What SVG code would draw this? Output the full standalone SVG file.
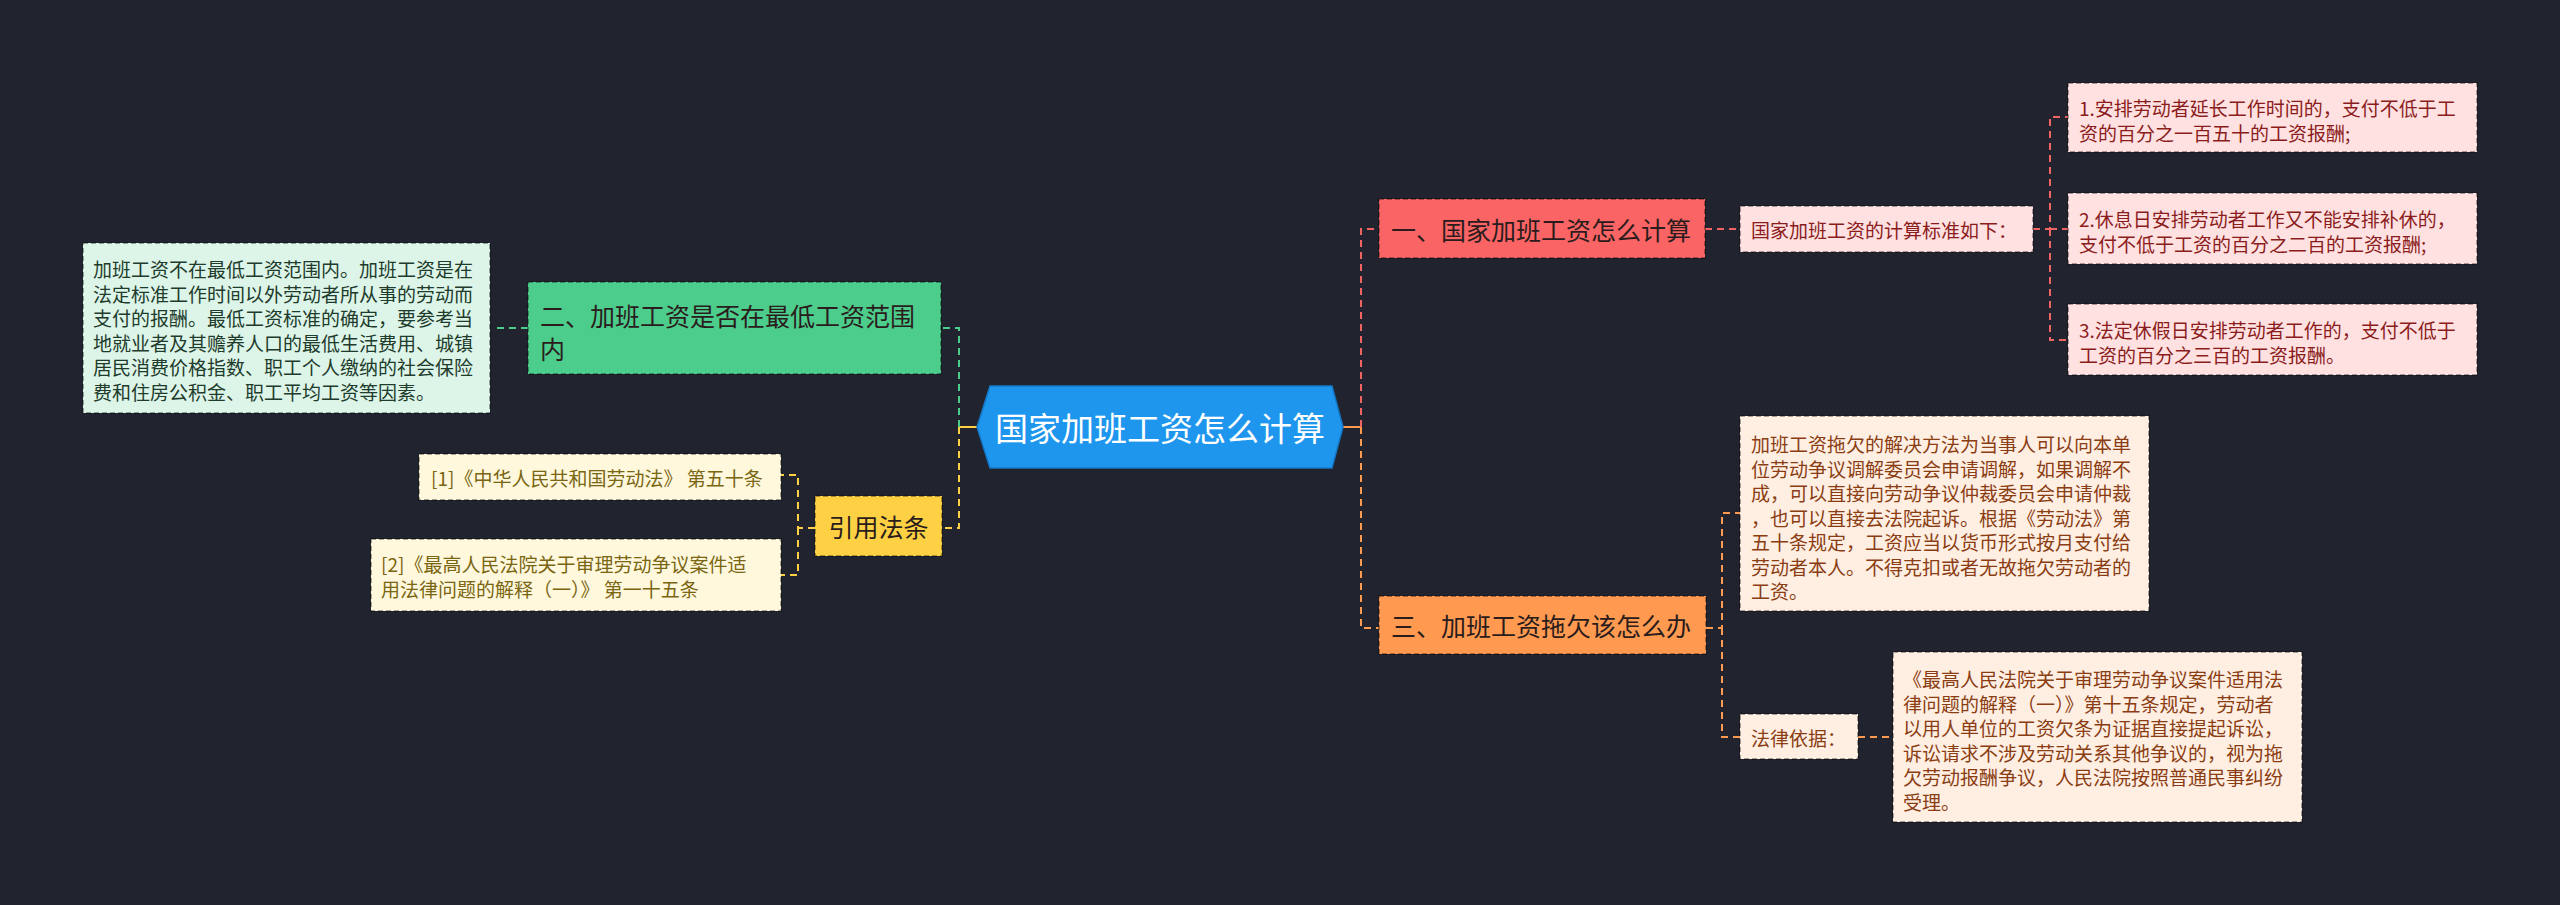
<svg xmlns="http://www.w3.org/2000/svg" width="2560" height="905" viewBox="0 0 2560 905">
<style>
text{font-family:"Noto Sans CJK SC","Noto Sans",sans-serif;dominant-baseline:central}
.c{fill:none;stroke-width:2;stroke-dasharray:7 5}
.b{stroke:rgba(0,0,0,0.45);stroke-width:1.5;stroke-dasharray:5 3}
.s{font-size:19px}
.m{font-size:25px;fill:#2a1c1c}
</style>
<rect width="2560" height="905" fill="#21242f"/>
<g id="connectors">
<path d="M1343 427 H1361" stroke="#ff9a50" stroke-width="2" fill="none"/>
<path class="c" d="M1361 427 V229 H1379" stroke="#f06464"/>
<path class="c" d="M1361 427 V628 H1379" stroke="#ff9a50"/>
<path d="M977 427 H959" stroke="#fdd143" stroke-width="2" fill="none"/>
<path class="c" d="M959 427 V328 H941" stroke="#4ccd8c"/>
<path class="c" d="M959 427 V528 H942" stroke="#fdd143"/>
<path class="c" d="M1705 229 H1740" stroke="#f06464"/>
<path class="c" d="M2033 229 H2050 V117 H2068 M2050 229 H2068 M2050 229 V340 H2068" stroke="#f06464"/>
<path class="c" d="M528 328 H492" stroke="#4ccd8c"/>
<path class="c" d="M815 528 H798 V475 H781 M798 528 V575 H781" stroke="#fdd143"/>
<path class="c" d="M1706 628 H1722 V513 H1740 M1722 628 V737 H1740" stroke="#ff9a50"/>
<path class="c" d="M1858 737 H1893" stroke="#ff9a50"/>
</g>
<g id="center">
<polygon points="977,427 990,386 1332,386 1343,427 1332,468 990,468" fill="#1e96ee" stroke="#1478c8" stroke-width="1.5"/>
<text x="1160" y="427" text-anchor="middle" font-size="33" fill="#ffffff">国家加班工资怎么计算</text>
</g>
<g id="n1">
<rect class="b" x="1379" y="199" width="326" height="59" fill="#fa6464"/>
<text class="m" x="1391" y="229">一、国家加班工资怎么计算</text>
</g>
<g id="n1a">
<rect class="b" x="1740" y="206" width="293" height="46" fill="#ffe1e1"/>
<text class="s" x="1751" y="229" fill="#8b1c1c">国家加班工资的计算标准如下：</text>
</g>
<g id="n1a1">
<rect class="b" x="2068" y="83" width="409" height="69" fill="#ffe1e1"/>
<text class="s" fill="#8b1c1c"><tspan x="2079" y="107">1.安排劳动者延长工作时间的，支付不低于工</tspan><tspan x="2079" y="132">资的百分之一百五十的工资报酬;</tspan></text>
</g>
<g id="n1a2">
<rect class="b" x="2068" y="193" width="409" height="71" fill="#ffe1e1"/>
<text class="s" fill="#8b1c1c"><tspan x="2079" y="218">2.休息日安排劳动者工作又不能安排补休的，</tspan><tspan x="2079" y="243">支付不低于工资的百分之二百的工资报酬;</tspan></text>
</g>
<g id="n1a3">
<rect class="b" x="2068" y="304" width="409" height="71" fill="#ffe1e1"/>
<text class="s" fill="#8b1c1c"><tspan x="2079" y="329">3.法定休假日安排劳动者工作的，支付不低于</tspan><tspan x="2079" y="354">工资的百分之三百的工资报酬。</tspan></text>
</g>
<g id="n2">
<rect class="b" x="528" y="282" width="413" height="92" fill="#4ccd8c"/>
<text class="m"><tspan x="540" y="315">二、加班工资是否在最低工资范围</tspan><tspan x="540" y="348">内</tspan></text>
</g>
<g id="n2a">
<rect class="b" x="83" y="243" width="407" height="170" fill="#dcf5e8"/>
<text class="s" fill="#1e3b2c" font-size="19.5"><tspan x="93" y="268">加班工资不在最低工资范围内。加班工资是在</tspan><tspan x="93" y="292.6">法定标准工作时间以外劳动者所从事的劳动而</tspan><tspan x="93" y="317.2">支付的报酬。最低工资标准的确定，要参考当</tspan><tspan x="93" y="341.8">地就业者及其赡养人口的最低生活费用、城镇</tspan><tspan x="93" y="366.4">居民消费价格指数、职工个人缴纳的社会保险</tspan><tspan x="93" y="391">费和住房公积金、职工平均工资等因素。</tspan></text>
</g>
<g id="n3">
<rect class="b" x="815" y="496" width="127" height="60" fill="#fdd143"/>
<text class="m" x="878.5" y="526" text-anchor="middle">引用法条</text>
</g>
<g id="n3a">
<rect class="b" x="419" y="454" width="362" height="46" fill="#fff8dc"/>
<text class="s" x="431" y="477" fill="#7a6511">[1]《中华人民共和国劳动法》 第五十条</text>
</g>
<g id="n3b">
<rect class="b" x="371" y="539" width="410" height="72" fill="#fff8dc"/>
<text class="s" fill="#7a6511"><tspan x="381" y="563">[2]《最高人民法院关于审理劳动争议案件适</tspan><tspan x="381" y="588">用法律问题的解释（一）》 第一十五条</tspan></text>
</g>
<g id="n4">
<rect class="b" x="1379" y="596" width="327" height="58" fill="#ff9a50"/>
<text class="m" x="1391" y="625">三、加班工资拖欠该怎么办</text>
</g>
<g id="n4a">
<rect class="b" x="1740" y="416" width="409" height="195" fill="#ffeee2"/>
<text class="s" fill="#8a3d12"><tspan x="1751" y="443">加班工资拖欠的解决方法为当事人可以向本单</tspan><tspan x="1751" y="467.5">位劳动争议调解委员会申请调解，如果调解不</tspan><tspan x="1751" y="492">成，可以直接向劳动争议仲裁委员会申请仲裁</tspan><tspan x="1751" y="516.5">，也可以直接去法院起诉。根据《劳动法》第</tspan><tspan x="1751" y="541">五十条规定，工资应当以货币形式按月支付给</tspan><tspan x="1751" y="565.5">劳动者本人。不得克扣或者无故拖欠劳动者的</tspan><tspan x="1751" y="590">工资。</tspan></text>
</g>
<g id="n4b">
<rect class="b" x="1740" y="714" width="118" height="45" fill="#ffeee2"/>
<text class="s" x="1751" y="737" fill="#8a3d12">法律依据：</text>
</g>
<g id="n4b1">
<rect class="b" x="1893" y="652" width="409" height="170" fill="#ffeee2"/>
<text class="s" fill="#8a3d12"><tspan x="1903" y="678">《最高人民法院关于审理劳动争议案件适用法</tspan><tspan x="1903" y="702.6">律问题的解释（一）》第十五条规定，劳动者</tspan><tspan x="1903" y="727.2">以用人单位的工资欠条为证据直接提起诉讼，</tspan><tspan x="1903" y="751.8">诉讼请求不涉及劳动关系其他争议的，视为拖</tspan><tspan x="1903" y="776.4">欠劳动报酬争议，人民法院按照普通民事纠纷</tspan><tspan x="1903" y="801">受理。</tspan></text>
</g>
</svg>
